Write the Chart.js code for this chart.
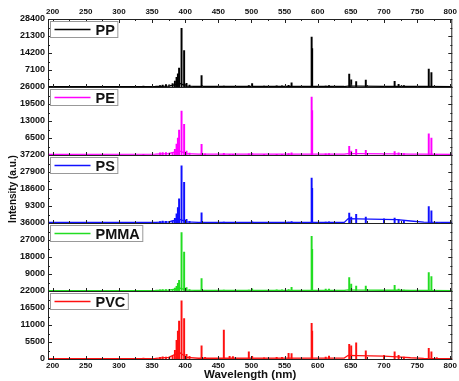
<!DOCTYPE html>
<html>
<head>
<meta charset="utf-8">
<script src="https://cdn.jsdelivr.net/npm/chart.js@4.4.1/dist/chart.umd.min.js"></script>
<style>
  html, body { margin: 0; padding: 0; background: #fff; }
</style>
</head>
<body>
<canvas id="libsChart" width="459" height="381"></canvas>
<script>
// emission lines (nm), shared by all samples
const lineNm = [337, 362, 366, 371, 376, 381, 384.5, 387, 389, 390.8, 394.5, 398.4, 402, 406.5, 424.7, 430,
    458.3, 467, 472, 496, 501, 519, 538, 546, 556, 560.5, 590.8, 591.6, 612, 617, 647.5, 650.5, 658, 672.5,
    700, 716, 722, 730, 767.5, 771.5, 779.5];

const ppPeaks = [400, 600, 800, 1000, 900, 1400, 2500, 4000, 5500, 7900, 24460, 15260, 1500, 800, 4790, 300,
    400, 300, 300, 600, 1400, 400, 500, 500, 700, 1700, 20900, 16000, 400, 600, 5380, 2970, 2250, 2840,
    300, 2420, 1140, 600, 7500, 6070, 300];
const pePeaks = [300, 800, 900, 900, 700, 1000, 2200, 4200, 6500, 9560, 16820, 11740, 1500, 700, 4090, 400,
    650, 300, 300, 400, 600, 300, 300, 300, 500, 800, 22180, 17000, 400, 500, 3330, 1530, 2180, 1800,
    300, 1260, 800, 500, 8140, 6500, 300];
const psPeaks = [400, 800, 1000, 900, 700, 1200, 2600, 5000, 8500, 13200, 31240, 22200, 2000, 900, 5630, 400,
    500, 300, 300, 400, 600, 300, 300, 300, 500, 800, 24580, 19000, 500, 600, 5400, 3250, 4700, 3250,
    2300, 2700, 1900, 1400, 9040, 6710, 300];
const pmmaPeaks = [300, 600, 700, 800, 700, 900, 1600, 2500, 4000, 5660, 30920, 20650, 1800, 800, 6560, 400,
    500, 300, 300, 500, 1200, 400, 600, 600, 700, 2000, 28960, 22000, 1000, 1060, 7090, 3700, 2650, 2650,
    400, 3020, 1000, 500, 9740, 7620, 300];
const pvcPeaks = [300, 500, 700, 600, 500, 900, 2800, 6000, 9000, 12240, 18780, 13110, 1500, 900, 4280, 500,
    9340, 900, 800, 2350, 900, 400, 500, 500, 1830, 1720, 11500, 9000, 600, 970, 4730, 4280, 5250, 2680,
    1200, 2350, 1200, 600, 3440, 2350, 420];

// background continuum
const contNm = [193, 355, 375, 385, 392, 402, 420, 640, 646, 660, 700, 720, 740, 760, 803];
const ppCont = [150, 200, 400, 1000, 1500, 400, 200, 200, 400, 400, 300, 300, 250, 200, 150];
const peCont = [250, 300, 500, 1200, 1500, 500, 300, 300, 500, 500, 400, 400, 300, 300, 250];
const psCont = [300, 350, 600, 1500, 2000, 600, 350, 350, 2400, 2300, 2000, 1800, 1100, 500, 300];
const pmmaCont = [250, 300, 500, 1000, 1500, 500, 300, 300, 600, 500, 400, 400, 350, 300, 250];
const pvcCont = [150, 200, 500, 1500, 2000, 500, 250, 300, 1200, 1100, 900, 700, 400, 200, 150];

const xTicks = [200, 250, 300, 350, 400, 450, 500, 550, 600, 650, 700, 750, 800];
const names = ['PP', 'PE', 'PS', 'PMMA', 'PVC'];
const colors = ['#000000', '#ff00ff', '#1010ff', '#22dd22', '#ff1010'];
const yMax = [28400, 26000, 37200, 36000, 22000];
const yStep = [7100, 6500, 9300, 9000, 5500];

const FONT = '"Liberation Sans", Arial, sans-serif';
const peaks = [ppPeaks, pePeaks, psPeaks, pmmaPeaks, pvcPeaks];
const conts = [ppCont, peCont, psCont, pmmaCont, pvcCont];

const datasets = [];
names.forEach((name, i) => {
    datasets.push({
        type: 'bar',
        label: name,
        data: lineNm.map((x, k) => ({ x, y: peaks[i][k] })),
        xAxisID: 'x',
        yAxisID: 'y' + name,
        backgroundColor: colors[i],
        barThickness: 1.3,
        grouped: false
    });
    datasets.push({
        type: 'line',
        label: name + ' bg',
        data: contNm.map((x, k) => ({ x, y: conts[i][k] })),
        xAxisID: 'x',
        yAxisID: 'y' + name,
        borderColor: colors[i],
        borderWidth: 1.3,
        pointRadius: 0,
        tension: 0
    });
});

const xAxis = (position, height) => ({
    type: 'linear',
    position,
    min: 193,
    max: 803,
    offset: false,
    afterBuildTicks: sc => { sc.ticks = xTicks.map(v => ({ value: v })); },
    afterFit: sc => { sc.height = height; },
    grid: { display: false, drawTicks: false },
    border: { display: false },
    ticks: {
        autoSkip: false,
        maxRotation: 0,
        padding: position === 'top' ? 2 : 2,
        color: '#111',
        font: { family: FONT, size: 8, weight: 'bold' },
        callback: v => String(v)
    }
});

const scales = {
    x: Object.assign(xAxis('bottom', 22), {
        title: {
            display: true,
            text: 'Wavelength (nm)',
            color: '#111',
            font: { family: FONT, size: 11.5, weight: 'bold', lineHeight: 1 },
            padding: { top: 0, bottom: 0 }
        }
    }),
    x2: xAxis('top', 19)
};

// stacked axes: the last one defined ends up on top, so go bottom-up
names.slice().reverse().forEach(name => {
    const i = names.indexOf(name);
    scales['y' + name] = {
        type: 'linear',
        position: 'left',
        stack: 'panels',
        stackWeight: 1,
        offset: false,
        min: 0,
        max: yMax[i],
        afterFit: sc => { sc.width = 48; },
        grid: { display: false, drawTicks: false },
        border: { display: false },
        ticks: {
            stepSize: yStep[i],
            autoSkip: false,
            padding: 3,
            color: '#111',
            font: { family: FONT, size: 9, weight: 'bold' },
            callback: v => (v === 0 && i < names.length - 1) ? '' : String(v)
        },
        title: {
            display: i === 2,
            text: 'Intensity (a.u.)',
            color: '#111',
            font: { family: FONT, size: 10, weight: 'bold' },
            padding: { top: 7, bottom: 0 }
        }
    };
});

function seg(ctx, x1, y1, x2, y2) {
    ctx.beginPath();
    ctx.moveTo(x1, y1);
    ctx.lineTo(x2, y2);
    ctx.stroke();
}

// frames, inward ticks and the small legend box of every panel
const panelFrame = {
    id: 'panelFrame',
    afterDraw(chart) {
        const { ctx, chartArea: { left, right, top }, scales: sc } = chart;
        const x = sc.x;
        ctx.save();
        ctx.strokeStyle = '#222';
        ctx.lineWidth = 1;

        names.forEach(name => {
            const y = sc['y' + name];
            ctx.strokeRect(left + 0.5, Math.round(y.top) + 0.5, right - left - 1, Math.round(y.bottom) - Math.round(y.top));

            const ticks = y.ticks;
            ticks.forEach((t, k) => {
                const py = Math.round(y.getPixelForValue(t.value)) + 0.5;
                seg(ctx, left, py, left + 4, py);
                seg(ctx, right, py, right - 4, py);
                if (k < ticks.length - 1) {
                    const pm = Math.round(y.getPixelForValue((t.value + ticks[k + 1].value) / 2)) + 0.5;
                    seg(ctx, left, pm, left + 2, pm);
                    seg(ctx, right, pm, right - 2, pm);
                }
            });

            xTicks.forEach((v, k) => {
                const px = Math.round(x.getPixelForValue(v)) + 0.5;
                seg(ctx, px, y.bottom, px, y.bottom - 3);
                if (k < xTicks.length - 1) {
                    const pm = Math.round(x.getPixelForValue(v + 25)) + 0.5;
                    seg(ctx, pm, y.bottom, pm, y.bottom - 2);
                }
            });
        });

        xTicks.forEach((v, k) => {
            const px = Math.round(x.getPixelForValue(v)) + 0.5;
            seg(ctx, px, top, px, top + 4);
            if (k < xTicks.length - 1) {
                const pm = Math.round(x.getPixelForValue(v + 25)) + 0.5;
                seg(ctx, pm, top, pm, top + 2);
            }
        });

        ctx.font = 'bold 14.5px ' + FONT;
        ctx.textBaseline = 'middle';
        names.forEach((name, i) => {
            const y = sc['y' + name];
            const bx = left + 2.5, by = Math.round(y.top) + 2.5, bh = 16;
            const tx = bx + 45;
            const bw = tx + ctx.measureText(name).width + 3 - bx;
            ctx.fillStyle = '#fff';
            ctx.fillRect(bx, by, bw, bh);
            ctx.strokeStyle = '#999';
            ctx.strokeRect(bx, by, bw, bh);
            ctx.strokeStyle = colors[i];
            ctx.lineWidth = 1.3;
            seg(ctx, bx + 4, by + bh / 2, bx + 40, by + bh / 2);
            ctx.lineWidth = 1;
            ctx.fillStyle = '#111';
            ctx.fillText(name, tx, by + bh / 2 + 1);
        });
        ctx.restore();
    }
};

new Chart(document.getElementById('libsChart'), {
    type: 'bar',
    data: { datasets },
    options: {
        responsive: false,
        animation: false,
        layout: { padding: { left: 0, right: 6, top: 0, bottom: 0 } },
        plugins: {
            legend: { display: false },
            tooltip: { enabled: false }
        },
        scales
    },
    plugins: [panelFrame]
});
</script>
</body>
</html>
